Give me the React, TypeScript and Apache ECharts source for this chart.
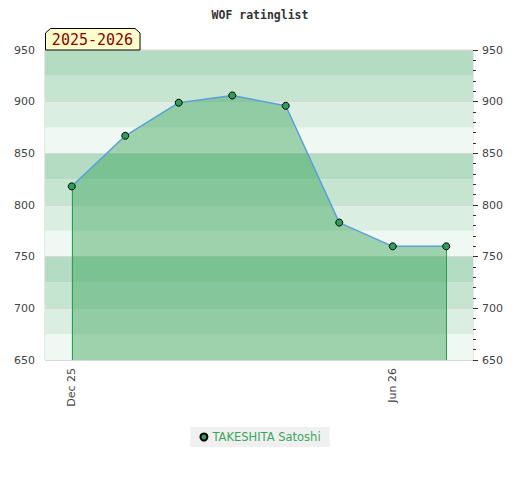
import React, { useEffect, useRef } from "react";
import * as echarts from "echarts";

const categories = ["Dec 25", "Jan 26", "Feb 26", "Mar 26", "Apr 26", "May 26", "Jun 26", "Jul 26"];
const ratings = [818, 867, 899, 906, 896, 783, 760, 760];
const shownLabels = ["Dec 25", "Jun 26"];
const playerName = "TAKESHITA Satoshi";
const titleText = "WOF ratinglist";
const seasonText = "2025-2026";
const yMin = 650;
const yMax = 950;

export default function App() {
  const ref = useRef<HTMLDivElement>(null);
  useEffect(() => {
    if (!ref.current) return;
    const chart = echarts.init(ref.current, null, { renderer: "svg" });
    const axisFont = { fontFamily: "DejaVu Sans", fontSize: 11, color: "#444" };
    chart.setOption({
      animation: false,
      backgroundColor: "#fff",
      title: {
        text: titleText,
        left: "center",
        top: 4,
        textStyle: { fontFamily: "DejaVu Sans Mono", fontWeight: "bold", fontSize: 11.5, color: "#333" },
      },
      grid: { left: 45, right: 47, top: 50, bottom: 120, show: true, borderColor: "#d0d0d0", borderWidth: 1, backgroundColor: "transparent" },
      legend: {
        top: 427,
        left: "center",
        backgroundColor: "#f0f0f0",
        padding: [4, 9, 4, 9],
        itemWidth: 7,
        itemHeight: 7,
        itemGap: 6,
        textStyle: { fontFamily: "DejaVu Sans", fontSize: 11.5, color: "#3aa65a" },
        data: [{ name: playerName, icon: "circle" }],
      },
      xAxis: {
        type: "category",
        data: categories,
        boundaryGap: true,
        axisLine: { show: false },
        axisTick: { show: false },
        axisLabel: {
          ...axisFont,
          rotate: 90,
          margin: 8,
          interval: (i: number, v: string) => shownLabels.includes(v),
        },
      },
      yAxis: [
        {
          type: "value",
          position: "left",
          min: yMin,
          max: yMax,
          interval: 50,
          axisLine: { show: false },
          axisTick: { show: false },
          axisLabel: { ...axisFont, margin: 10 },
          splitLine: { show: false },
        },
        {
          type: "value",
          position: "right",
          min: yMin,
          max: yMax,
          interval: 50,
          axisLine: { show: false },
          axisTick: { show: true, length: 5, lineStyle: { color: "#333" } },
          minorTick: { show: true, splitNumber: 5, length: 3, lineStyle: { color: "#333" } },
          axisLabel: { ...axisFont, margin: 9 },
          splitLine: { show: false },
        },
        {
          type: "value",
          position: "left",
          min: yMin,
          max: yMax,
          interval: 25,
          axisLine: { show: false },
          axisTick: { show: false },
          axisLabel: { show: false },
          splitLine: { show: false },
          splitArea: {
            show: true,
            areaStyle: { color: ["#f0f8f3", "#dbeee2", "#c6e5d1", "#b3dcc3"] },
          },
        },
        {
          type: "value",
          position: "left",
          min: yMin,
          max: yMax,
          interval: 50,
          axisLine: { show: false },
          axisTick: { show: false },
          axisLabel: { show: false },
          splitLine: { show: true, lineStyle: { color: "#d8d8d8", width: 1 } },
        },
      ],
      series: [
        {
          name: playerName,
          type: "line",
          yAxisIndex: 0,
          data: ratings,
          symbol: "circle",
          symbolSize: 7,
          itemStyle: { color: "#2e9e58", borderColor: "#000", borderWidth: 1 },
          lineStyle: { color: "#5aa0dc", width: 1.5 },
          areaStyle: { color: "rgb(50,162,85)", opacity: 0.44, origin: "start" },
          markLine: {
            silent: true,
            symbol: "none",
            label: { show: false },
            lineStyle: { color: "#2a9a55", type: "solid", width: 1, opacity: 1 },
            data: [
              [{ coord: [categories[0], ratings[0]] }, { coord: [categories[0], yMin] }],
              [
                { coord: [categories[categories.length - 1], ratings[ratings.length - 1]] },
                { coord: [categories[categories.length - 1], yMin] },
              ],
            ],
          },
          z: 5,
        },
      ],
      graphic: [
        {
          type: "polygon",
          z: 100,
          shape: { points: [[45.5, 50], [45.5, 33], [50.5, 28.5], [135, 28.5], [140, 33], [140, 50]] },
          style: { fill: "#ffffcc", stroke: "#000", lineWidth: 1 },
        },
        {
          type: "text",
          z: 101,
          x: 92.5,
          y: 40,
          style: {
            text: seasonText,
            fill: "#8b0000",
            font: "15px 'DejaVu Sans Mono'",
            align: "center",
            verticalAlign: "middle",
          },
        },
      ],
    });
    return () => chart.dispose();
  }, []);
  return <div ref={ref} style={{ position: "fixed", left: 0, top: 0, width: 520, height: 480 }} />;
}
